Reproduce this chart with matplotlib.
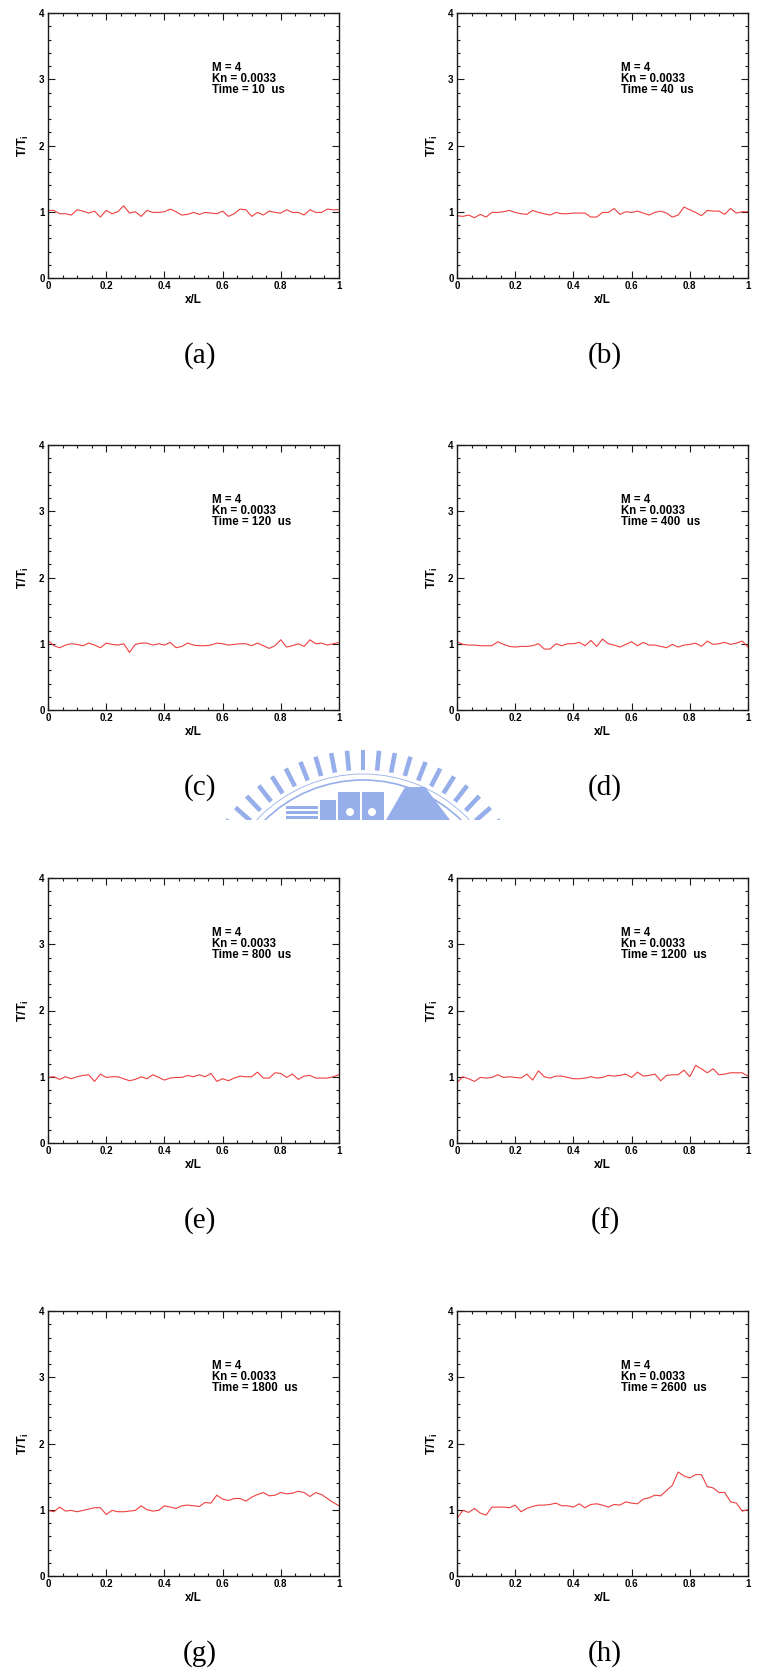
import numpy as np
import matplotlib
matplotlib.use("Agg")
import matplotlib.pyplot as plt
from matplotlib.ticker import MultipleLocator, FixedLocator, FixedFormatter
from matplotlib.patches import Rectangle, Polygon, Circle

plt.rcParams["font.family"] = ["Liberation Sans", "DejaVu Sans"]
plt.rcParams["mathtext.fontset"] = "custom"
plt.rcParams["mathtext.rm"] = "Liberation Sans:bold"
plt.rcParams["mathtext.bf"] = "Liberation Sans:bold"
plt.rcParams["mathtext.it"] = "Liberation Sans:bold"

# ---- data: normalised temperature T/Ti along x/L at successive times ----
panel_tags = ["(a)", "(b)", "(c)", "(d)", "(e)", "(f)", "(g)", "(h)"]
times_us = [10, 40, 120, 400, 800, 1200, 1800, 2600]
mach = 4
knudsen = "0.0033"

T_10 = [1.02, 1.02, 0.97, 0.97, 0.95, 1.03, 1.01, 0.98, 1.01, 0.92, 1.02, 0.97, 1.00,
        1.09, 0.98, 1.00, 0.93, 1.02, 0.99, 0.99, 1.00, 1.04, 1.00, 0.95, 0.96, 0.99,
        0.96, 0.99, 0.98, 0.97, 1.01, 0.93, 0.97, 1.04, 1.03, 0.93, 0.99, 0.95, 1.01,
        0.99, 0.98, 1.03, 0.99, 0.99, 0.95, 1.03, 0.99, 0.99, 1.04, 1.03, 1.03]
T_40 = [0.94, 0.93, 0.95, 0.91, 0.96, 0.92, 0.99, 0.99, 1.00, 1.02, 0.99, 0.97, 0.96,
        1.02, 0.99, 0.97, 0.95, 0.99, 0.97, 0.97, 0.98, 0.98, 0.98, 0.92, 0.92, 0.99,
        0.99, 1.05, 0.96, 1.00, 0.99, 1.01, 0.98, 0.95, 0.99, 1.01, 0.98, 0.92, 0.95,
        1.07, 1.03, 0.99, 0.94, 1.02, 1.01, 1.01, 0.96, 1.05, 0.98, 1.00, 1.00]
T_120 = [1.05, 0.97, 0.94, 0.98, 1.00, 0.99, 0.97, 1.01, 0.98, 0.94, 1.01, 0.99, 0.98,
         1.00, 0.87, 0.99, 1.01, 1.01, 0.98, 1.00, 0.98, 1.02, 0.94, 0.96, 1.01, 0.98,
         0.97, 0.97, 0.98, 1.01, 1.00, 0.98, 0.99, 1.00, 1.00, 0.97, 1.01, 0.97, 0.93,
         0.97, 1.06, 0.95, 0.97, 1.00, 0.96, 1.06, 1.00, 1.01, 0.98, 1.00, 1.02]
T_400 = [1.03, 0.99, 0.98, 0.98, 0.97, 0.97, 0.97, 1.03, 0.99, 0.96, 0.95, 0.96, 0.96,
         0.97, 1.00, 0.92, 0.92, 1.00, 0.97, 1.00, 1.00, 1.02, 0.97, 1.05, 0.96, 1.07,
         1.00, 0.98, 0.95, 0.99, 1.03, 0.97, 1.02, 0.98, 0.98, 0.96, 0.94, 0.99, 0.95,
         0.98, 0.99, 1.01, 0.96, 1.04, 0.99, 1.00, 1.02, 0.99, 1.01, 1.04, 0.95]
T_800 = [0.99, 1.00, 0.96, 1.00, 0.97, 1.00, 1.02, 1.03, 0.93, 1.04, 0.99, 1.00, 1.00,
         0.97, 0.94, 0.96, 1.00, 0.97, 1.03, 0.99, 0.95, 0.98, 0.99, 0.99, 1.02, 1.00,
         1.03, 1.00, 1.05, 0.93, 0.97, 0.94, 0.98, 1.01, 1.00, 1.00, 1.07, 0.98, 0.98,
         1.06, 1.05, 0.99, 1.04, 0.96, 1.01, 1.02, 0.98, 0.98, 0.98, 1.00, 1.03]
T_1200 = [0.91, 1.00, 0.97, 0.93, 0.99, 0.98, 0.99, 1.03, 0.99, 1.00, 0.99, 0.98, 1.04,
          0.95, 1.09, 1.00, 0.98, 1.01, 1.01, 0.99, 0.97, 0.97, 0.98, 1.00, 0.98, 0.99,
          1.02, 1.01, 1.02, 1.04, 0.99, 1.07, 1.01, 1.02, 1.04, 0.94, 1.02, 1.03, 1.03,
          1.10, 1.00, 1.17, 1.12, 1.06, 1.12, 1.03, 1.04, 1.06, 1.06, 1.06, 1.01]
T_1800 = [0.99, 0.97, 1.04, 0.98, 0.99, 0.97, 0.99, 1.01, 1.03, 1.03, 0.93, 0.99, 0.97,
          0.97, 0.98, 0.99, 1.06, 1.00, 0.98, 0.99, 1.06, 1.04, 1.02, 1.06, 1.07, 1.06,
          1.05, 1.11, 1.10, 1.22, 1.16, 1.14, 1.17, 1.17, 1.13, 1.19, 1.23, 1.26, 1.21,
          1.22, 1.26, 1.24, 1.25, 1.28, 1.26, 1.20, 1.26, 1.23, 1.17, 1.11, 1.06]
T_2600 = [0.87, 0.99, 0.96, 1.02, 0.95, 0.92, 1.04, 1.04, 1.04, 1.03, 1.07, 0.97, 1.02,
          1.05, 1.07, 1.07, 1.08, 1.10, 1.06, 1.06, 1.04, 1.09, 1.03, 1.08, 1.09, 1.07,
          1.04, 1.08, 1.07, 1.12, 1.10, 1.09, 1.16, 1.18, 1.22, 1.21, 1.29, 1.37, 1.57,
          1.51, 1.48, 1.53, 1.53, 1.35, 1.33, 1.26, 1.26, 1.12, 1.10, 0.98, 1.00]
profiles = [T_10, T_40, T_120, T_400, T_800, T_1200, T_1800, T_2600]

x_ticks = [0, 0.2, 0.4, 0.6, 0.8, 1]
x_ticklabels = ["0", "0.2", "0.4", "0.6", "0.8", "1"]
y_ticks = [0, 1, 2, 3, 4]
y_ticklabels = ["0", "1", "2", "3", "4"]

# ---- layout (figure pixels) ----
W, H = 757, 1672
fig = plt.figure(figsize=(W / 100, H / 100), dpi=100)
col_left = [48, 457]
ax_w, ax_h = 291, 265
row_top = [13, 445, 878, 1311]
tag_x = [200, 605]
tag_dy = 78

line_color = "#ee4040"
spine_color = "#1a1a1a"

for k, (tag, t_us, T) in enumerate(zip(panel_tags, times_us, profiles)):
    r, c = divmod(k, 2)
    left, top = col_left[c], row_top[r]
    ax = fig.add_axes([left / W, 1 - (top + ax_h) / H, ax_w / W, ax_h / H])
    x = np.linspace(0, 1, len(T))
    ax.plot(x, T, color=line_color, lw=0.8)
    ax.set_xlim(0, 1)
    ax.set_ylim(0, 4)

    ax.xaxis.set_major_locator(FixedLocator(x_ticks))
    ax.xaxis.set_major_formatter(FixedFormatter(x_ticklabels))
    ax.yaxis.set_major_locator(FixedLocator(y_ticks))
    ax.yaxis.set_major_formatter(FixedFormatter(y_ticklabels))
    ax.xaxis.set_minor_locator(MultipleLocator(0.05))
    ax.yaxis.set_minor_locator(MultipleLocator(0.2))
    ax.tick_params(which="both", direction="in", top=True, right=True,
                   color=spine_color, width=0.8)
    ax.tick_params(which="major", length=5, labelsize=7, pad=2.5)
    ax.tick_params(which="minor", length=2.5)
    for lab in ax.get_xticklabels() + ax.get_yticklabels():
        lab.set_fontweight("bold")
    for sp in ax.spines.values():
        sp.set_color(spine_color)
        sp.set_linewidth(1.0)

    ax.set_xlabel("x/L", fontsize=8.5, fontweight="bold", labelpad=2)
    ax.set_ylabel(r"$\mathbf{T/T_i}$", fontsize=9, labelpad=6)

    info = [f"M = {mach}", f"Kn = {knudsen}", f"Time = {t_us}  us"]
    for j, s in enumerate(info):
        ax.text(0.564, 0.782 - j * 0.0425, s, transform=ax.transAxes,
                fontsize=8.3, fontweight="bold", va="baseline", ha="left")

    fig.text(tag_x[c] / W, 1 - (top + ax_h + tag_dy) / H, tag,
             family="Liberation Serif", fontsize=21, ha="center", va="center")

# ---- faint university emblem between the second and third rows ----
wm = fig.add_axes([0, 0, 1, 1], zorder=-1)
wm.set_xlim(0, W)
wm.set_ylim(H, 0)
wm.axis("off")
wm_col = "#96aeea"
clip = Rectangle((200, 748), 340, 72, transform=wm.transData)
cx, cy = 363, 920
arts = []
for ang in np.arange(-54, 55, 5.4):
    a = np.deg2rad(ang)
    ux, uy = np.sin(a), -np.cos(a)
    px, py = -uy, ux
    r0, r1, hw = 150, 170, 2.3
    pts = [(cx + ux * r0 + px * hw, cy + uy * r0 + py * hw),
           (cx + ux * r1 + px * hw, cy + uy * r1 + py * hw),
           (cx + ux * r1 - px * hw, cy + uy * r1 - py * hw),
           (cx + ux * r0 - px * hw, cy + uy * r0 - py * hw)]
    arts.append(wm.add_patch(Polygon(pts, closed=True, color=wm_col, lw=0)))
arts.append(wm.add_patch(Circle((cx, cy), 140, fill=False, ec=wm_col, lw=1.2)))
arts.append(wm.add_patch(Circle((cx, cy), 146, fill=False, ec=wm_col, lw=0.6)))
for yy in (806, 811, 816):
    arts.append(wm.add_patch(Rectangle((286, yy), 32, 3, color=wm_col, lw=0)))
arts.append(wm.add_patch(Rectangle((320, 800), 16, 20, color=wm_col, lw=0)))
arts.append(wm.add_patch(Rectangle((338, 792), 22, 28, color=wm_col, lw=0)))
arts.append(wm.add_patch(Rectangle((362, 792), 22, 28, color=wm_col, lw=0)))
arts.append(wm.add_patch(Polygon([(386, 820), (405, 787), (425, 787), (450, 820)],
                                 closed=True, color=wm_col, lw=0)))
arts.append(wm.add_patch(Circle((350, 812), 4, color="white", lw=0)))
arts.append(wm.add_patch(Circle((372, 812), 4, color="white", lw=0)))
for art in arts:
    art.set_clip_path(clip)

fig.savefig("out.png", dpi=100)
